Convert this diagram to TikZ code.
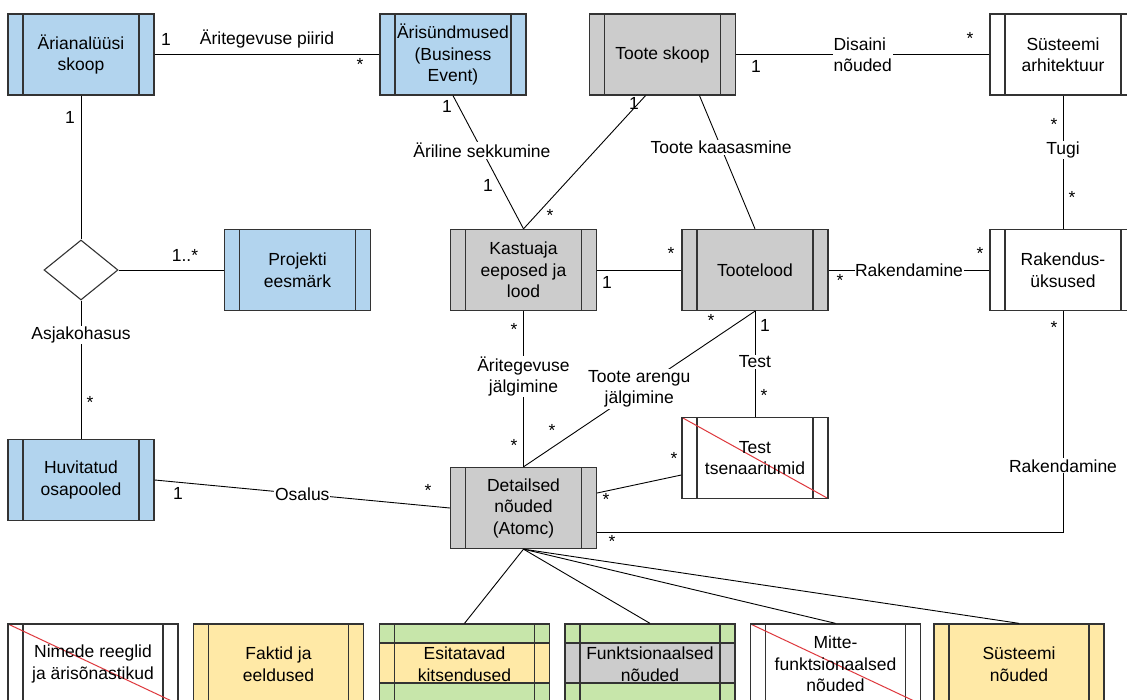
\documentclass[tikz,border=0pt]{standalone}
\usepackage{fontspec}
\setmainfont{Liberation Sans}
\usetikzlibrary{shapes.geometric}

\definecolor{xblue}{RGB}{178,212,238}
\definecolor{xgrey}{RGB}{204,204,204}
\definecolor{xyellow}{RGB}{255,233,166}
\definecolor{xgreen}{RGB}{199,230,170}
\definecolor{xred}{RGB}{222,55,60}
\definecolor{boxline}{RGB}{51,51,51}

% the two inner bars of a process box
\newcommand{\innerbars}{%
  \draw[boxline, line width=1.3pt]
    ([xshift=15pt]path picture bounding box.north west) -- ([xshift=15pt]path picture bounding box.south west)
    ([xshift=-15pt]path picture bounding box.north east) -- ([xshift=-15pt]path picture bounding box.south east);}

\begin{document}
\begin{tikzpicture}[x=1pt, y=-1pt,
    font=\fontsize{17.5}{21.5}\selectfont,
    proc/.style={draw=boxline, line width=1.3pt, minimum width=146pt, minimum height=81pt, align=center, inner sep=2pt, path picture={\innerbars}},
    wide/.style={proc, minimum width=170pt, minimum height=80pt},
    crossed/.style={path picture={\innerbars
      \draw[xred, line width=1pt] (path picture bounding box.north west) -- (path picture bounding box.south east);}},
    banded/.style={path picture={
      \fill[#1] ([yshift=-19pt]path picture bounding box.north west) rectangle ([yshift=-59pt]path picture bounding box.north east);
      \draw[boxline, line width=1.3pt]
        ([yshift=-19pt]path picture bounding box.north west) -- ([yshift=-19pt]path picture bounding box.north east)
        ([yshift=-59pt]path picture bounding box.north west) -- ([yshift=-59pt]path picture bounding box.north east);
      \innerbars}},
    conn/.style={draw=black, line width=0.9pt},
    lbl/.style={fill=white, inner sep=1pt, align=center},
    mult/.style={inner sep=0pt}
]
\useasboundingbox (0,0) rectangle (1127,700);

% Top row
\node[proc, fill=xblue] (ars) at (81,54.5) {Ärianalüüsi\\skoop};
\node[proc, fill=xblue] (ari) at (453,54.5) {Ärisündmused\\(Business\\Event)};
\node[proc, fill=xgrey] (tsk) at (662.5,54.5) {Toote skoop};
\node[proc, fill=white] (sar) at (1063,54.5) {Süsteemi\\arhitektuur};

% Middle
\node[diamond, draw=boxline, line width=1.1pt, minimum width=74pt, minimum height=60pt, inner sep=0pt] (rel) at (81,270) {};
\node[proc, fill=xblue] (pro) at (297.5,270) {Projekti\\eesmärk};
\node[proc, fill=xgrey] (kas) at (523.5,270) {Kastuaja\\eeposed ja\\lood};
\node[proc, fill=xgrey] (tlo) at (755,270) {Tootelood};
\node[proc, fill=white] (rak) at (1063,270) {Rakendus-\\üksused};
\node[proc, fill=xblue] (huv) at (81,480) {Huvitatud\\osapooled};
\node[proc, fill=xgrey] (det) at (523.5,508) {Detailsed\\nõuded\\(Atomc)};
\node[proc, crossed, fill=white] (tst) at (755,458) {Test\\tsenaariumid};

% Bottom row
\node[wide, crossed, fill=white] (nim) at (93,664) {Nimede reeglid\\ja ärisõnastikud};
\node[wide, fill=xyellow] (fak) at (278.5,664) {Faktid ja\\eeldused};
\node[wide, banded=xyellow, fill=xgreen] (esi) at (464.5,664) {Esitatavad\\kitsendused};
\node[wide, banded=xgrey, fill=xgreen] (fun) at (650,664) {Funktsionaalsed\\nõuded};
\node[wide, crossed, fill=white] (mit) at (835.5,664) {Mitte-\\funktsionaalsed\\nõuded};
\node[wide, fill=xyellow] (sno) at (1019,664) {Süsteemi\\nõuded};

% Connections
\draw[conn] (ars) -- node[above=3pt] {Äritegevuse piirid} (ari);
\draw[conn] (ars) -- (rel);
\draw[conn] (rel) -- (pro);
\draw[conn] (rel) -- node[lbl, pos=.25] {Asjakohasus} (huv);
\draw[conn] (huv.east) -- node[lbl] {Osalus} (det.west);
\draw[conn] (ari.south) -- node[lbl, pos=.41] {Äriline sekkumine} (kas.north);
\draw[conn] ([xshift=-17pt]tsk.south) -- (kas.north);
\draw[conn] ([xshift=37pt]tsk.south) -- node[lbl, pos=.39] {Toote kaasasmine} (tlo.north);
\draw[conn] (tsk) -- node[lbl, align=left] {Disaini\\nõuded} (sar);
\draw[conn] (sar) -- node[lbl, pos=.41] {Tugi} (rak);
\draw[conn] (kas) -- (tlo);
\draw[conn] (tlo) -- node[lbl, inner sep=0.5pt] {Rakendamine} (rak);
\draw[conn] (kas) -- node[lbl, pos=.42] {Äritegevuse\\jälgimine} (det);
\draw[conn] (tlo.south) -- node[lbl, pos=.5] {Toote arengu\\jälgimine} (det.north);
\draw[conn] (tlo) -- node[lbl, pos=.48] {Test} (tst);
\draw[conn] ([yshift=-17pt]tst.west) -- ([yshift=15pt]det.east);
\draw[conn] (rak.south) |- node[lbl, pos=.35] {Rakendamine} ([yshift=-24pt]det.east);
\draw[conn] (det.south) -- (esi.north);
\draw[conn] (det.south) -- (fun.north);
\draw[conn] (det.south) -- (mit.north);
\draw[conn] (det.south) -- (sno.north);

% Multiplicities
\node[mult] (m1) at (166,39) {1};
\node[mult] (m2) at (360,64) {*};
\node[mult] (m3) at (70,117) {1};
\node[mult] (m4) at (185,255) {1..*};
\node[mult] (m5) at (90,402) {*};
\node[mult] (m6) at (178,493) {1};
\node[mult] (m7) at (428,490) {*};
\node[mult] (m8) at (447,106) {1};
\node[mult] (m9) at (488,185) {1};
\node[mult] (m10) at (634,103) {1};
\node[mult] (m11) at (550,215) {*};
\node[mult] (m12) at (756,66) {1};
\node[mult] (m13) at (970,38) {*};
\node[mult] (m14) at (1054,124) {*};
\node[mult] (m15) at (1072,197) {*};
\node[mult] (m16) at (607,282) {1};
\node[mult] (m17) at (671,253) {*};
\node[mult] (m18) at (840,280) {*};
\node[mult] (m19) at (980,253) {*};
\node[mult] (m20) at (514,329) {*};
\node[mult] (m21) at (514,445) {*};
\node[mult] (m22) at (711,320) {*};
\node[mult] (m23) at (552,430) {*};
\node[mult] (m24) at (765,325) {1};
\node[mult] (m25) at (764,395) {*};
\node[mult] (m26) at (674,458) {*};
\node[mult] (m27) at (606,499) {*};
\node[mult] (m28) at (1054,327) {*};
\node[mult] (m29) at (612,541) {*};
\end{tikzpicture}
\end{document}
